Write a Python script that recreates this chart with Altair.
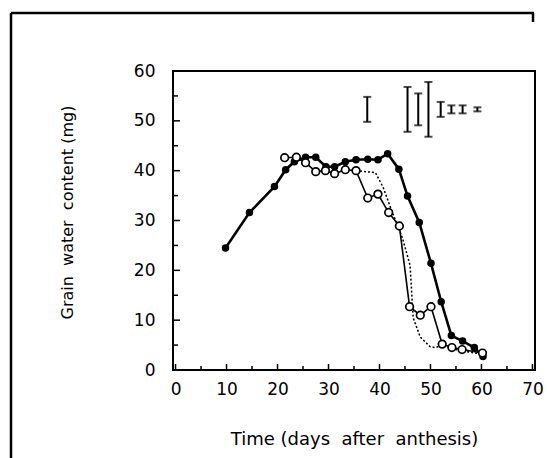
import altair as alt
import pandas as pd

# Control plants (filled circles, heavy line)
ctrl_day = [9.8, 14.5, 19.4, 21.6, 23.3, 25.5, 27.5, 29.5, 31.2, 33.3, 35.4, 37.7,
            39.7, 41.6, 43.8, 45.5, 47.8, 50.1, 52.1, 54.1, 56.3, 58.6, 60.3]
ctrl_water = [24.5, 31.6, 36.8, 40.2, 41.8, 42.7, 42.7, 40.8, 40.8, 41.8, 42.2, 42.3,
              42.2, 43.4, 40.3, 34.9, 29.6, 21.4, 13.7, 6.9, 5.8, 4.5, 2.7]

# Treated plants (open circles, thin line)
treat_day = [21.4, 23.7, 25.5, 27.5, 29.4, 31.2, 33.3, 35.4, 37.7, 39.7, 41.8, 43.9,
             45.9, 48.0, 50.1, 52.3, 54.2, 56.2, 60.2]
treat_water = [42.6, 42.7, 41.6, 39.8, 40.0, 39.4, 40.2, 40.0, 34.5, 35.3, 31.6, 28.9,
               12.7, 11.0, 12.7, 5.2, 4.5, 4.1, 3.4]

# Second treatment (dotted line, no markers)
dot_day = [35.4, 39.2, 40.7, 42.2, 44.5, 46.0, 46.6, 48.0, 49.9, 51.0, 52.3, 54.2, 56.2, 60.2]
dot_water = [40.0, 39.6, 36.7, 32.5, 26.5, 21.0, 10.5, 6.6, 4.7, 4.5, 5.0, 4.3, 3.8, 3.2]

# LSD bars drawn above the curves
lsd_day = [37.6, 45.5, 47.6, 49.6, 52.0, 54.1, 56.3, 59.2]
lsd_low = [49.8, 47.8, 49.1, 46.8, 50.8, 51.5, 51.5, 51.9]
lsd_high = [54.8, 56.8, 55.5, 57.8, 53.8, 53.1, 53.1, 52.7]

# Axis ticks
x_major = [0, 10, 20, 30, 40, 50, 60, 70]
x_minor = [5, 15, 25, 35, 45, 55, 65]
y_major = [0, 10, 20, 30, 40, 50, 60]
y_minor = [5, 15, 25, 35, 45, 55]

W, H = 362, 299
FONT = "DejaVu Sans"
NB = "\u00a0"

ctrl = pd.DataFrame({"day": ctrl_day, "water": ctrl_water})
treat = pd.DataFrame({"day": treat_day, "water": treat_water})
dotted = pd.DataFrame({"day": dot_day, "water": dot_water})
lsd = pd.DataFrame({"day": lsd_day, "low": lsd_low, "high": lsd_high})

xs = alt.Scale(domain=[-0.5, 70.5], nice=False, zero=False)
ys = alt.Scale(domain=[0, 60], nice=False)

x_enc = alt.X(
    "day:Q", scale=xs,
    axis=alt.Axis(values=x_major, title=f"Time (days{NB} after{NB} anthesis)", tickSize=0,
                  labelPadding=11, titleY=74, titleBaseline="alphabetic",
                  labelFontSize=17, titleFontSize=18, labelFont=FONT, titleFont=FONT,
                  labelColor="black", titleColor="black", titleFontWeight="normal"),
)
y_enc = alt.Y(
    "water:Q", scale=ys,
    axis=alt.Axis(values=y_major, title=f"Grain{NB} water{NB} content (mg)", tickSize=0,
                  labelPadding=18, titleX=-101, titleY=141, titleBaseline="alphabetic",
                  labelFontSize=17, titleFontSize=16, labelFont=FONT, titleFont=FONT,
                  labelColor="black", titleColor="black", titleFontWeight="normal"),
)

ctrl_line = alt.Chart(ctrl).mark_line(color="black", strokeWidth=2.6).encode(x=x_enc, y=y_enc)
ctrl_pts = alt.Chart(ctrl).mark_point(shape="circle", filled=True, color="black", size=56, opacity=1).encode(
    x="day:Q", y="water:Q")

treat_line = alt.Chart(treat).mark_line(color="black", strokeWidth=1.6).encode(x="day:Q", y="water:Q")
treat_pts = alt.Chart(treat).mark_point(shape="circle", filled=True, fill="white", stroke="black",
                                        strokeWidth=1.7, size=58, opacity=1).encode(x="day:Q", y="water:Q")

dot_line = alt.Chart(dotted).mark_line(color="black", strokeWidth=1.5, strokeDash=[2, 2]).encode(
    x="day:Q", y="water:Q")

lsd_rule = alt.Chart(lsd).mark_rule(color="black", strokeWidth=2).encode(
    x="day:Q", y="low:Q", y2="high:Q")
lsd_cap_lo = alt.Chart(lsd).mark_tick(orient="horizontal", color="black", size=8, thickness=2).encode(
    x="day:Q", y="low:Q")
lsd_cap_hi = alt.Chart(lsd).mark_tick(orient="horizontal", color="black", size=8, thickness=2).encode(
    x="day:Q", y="high:Q")

# inward-facing ticks on the bottom and left edges
xmaj = alt.Chart(pd.DataFrame({"t": x_major})).mark_rule(color="black", strokeWidth=1.5).encode(
    x=alt.X("t:Q", scale=xs), y=alt.value(H), y2=alt.value(H - 6))
xmin = alt.Chart(pd.DataFrame({"t": x_minor})).mark_rule(color="black", strokeWidth=1.5).encode(
    x=alt.X("t:Q", scale=xs), y=alt.value(H), y2=alt.value(H - 4))
ymaj = alt.Chart(pd.DataFrame({"t": y_major})).mark_rule(color="black", strokeWidth=1.5).encode(
    y=alt.Y("t:Q", scale=ys), x=alt.value(0), x2=alt.value(7))
ymin = alt.Chart(pd.DataFrame({"t": y_minor})).mark_rule(color="black", strokeWidth=1.5).encode(
    y=alt.Y("t:Q", scale=ys), x=alt.value(0), x2=alt.value(5))

# page border around the figure
frame_top = alt.Chart(pd.DataFrame({"a": [0]})).mark_rule(color="black", strokeWidth=2.5).encode(
    x=alt.value(-162), x2=alt.value(361), y=alt.value(-58))
frame_left = alt.Chart(pd.DataFrame({"a": [0]})).mark_rule(color="black", strokeWidth=2.5).encode(
    x=alt.value(-162), y=alt.value(-58), y2=alt.value(390))
frame_right = alt.Chart(pd.DataFrame({"a": [0]})).mark_rule(color="black", strokeWidth=2.5).encode(
    x=alt.value(360), y=alt.value(-58), y2=alt.value(-49))

chart = alt.layer(
    ctrl_line, dot_line, treat_line, ctrl_pts, treat_pts,
    lsd_rule, lsd_cap_lo, lsd_cap_hi,
    xmaj, xmin, ymaj, ymin,
    frame_top, frame_left, frame_right,
).properties(
    width=W, height=H,
    autosize=alt.AutoSizeParams(type="none"),
    padding={"left": 173, "top": 71, "right": 12, "bottom": 88},
    background="white",
).configure_view(
    stroke="black", strokeWidth=2,
).configure_axis(
    domain=False, grid=False,
)

chart.save("out.html", embed_options={"renderer": "svg", "actions": False})
